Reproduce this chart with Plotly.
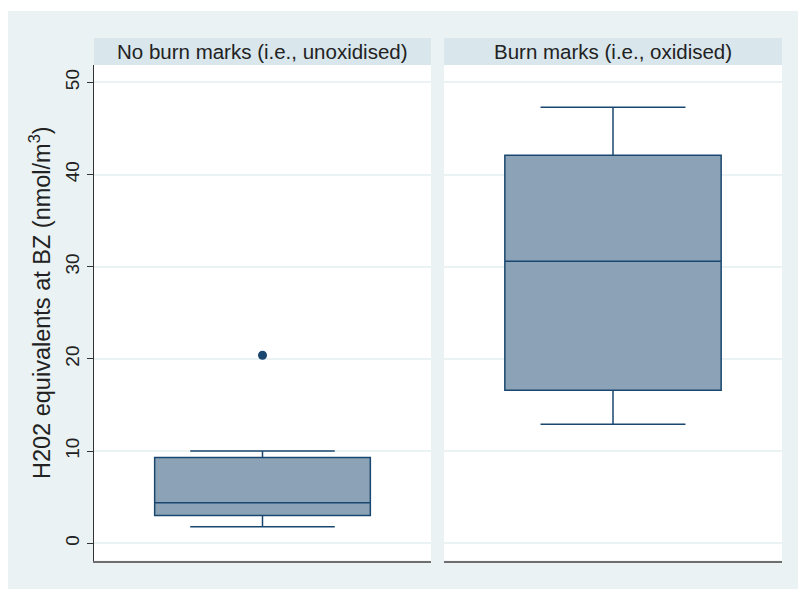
import plotly.graph_objects as go

# ---- data ----
groups = ["No burn marks (i.e., unoxidised)", "Burn marks (i.e., oxidised)"]
lower_whisker = [1.8, 12.9]
q1_vals = [3.0, 16.6]
median_vals = [4.4, 30.6]
q3_vals = [9.3, 42.1]
upper_whisker = [10.0, 47.3]
outliers = [[20.4], []]
y_ticks = [0, 10, 20, 30, 40, 50]
y_title = "H202 equivalents at BZ (nmol/m<sup>3</sup>)"

W, H = 798, 589
BOX_FILL = "#8CA2B6"
NAVY = "#1A476F"
BG = "#EAF2F3"
STRIP = "#D9E6EC"

fig = go.Figure()

panel_px = [(94, 431), (444, 782)]
top_px, bot_px = 65, 560.5
strip_top = 38

for i, g in enumerate(groups):
    xa = "x" if i == 0 else "x2"
    ya = "y" if i == 0 else "y2"
    fig.add_trace(go.Box(
        x=[0], q1=[q1_vals[i]], median=[median_vals[i]], q3=[q3_vals[i]],
        lowerfence=[lower_whisker[i]], upperfence=[upper_whisker[i]],
        width=0.64, whiskerwidth=0.67,
        fillcolor=BOX_FILL, line=dict(color=NAVY, width=1.5),
        boxpoints=False, showlegend=False, xaxis=xa, yaxis=ya,
        hoverinfo="skip",
    ))
    if outliers[i]:
        fig.add_trace(go.Scatter(
            x=[0] * len(outliers[i]), y=outliers[i], mode="markers",
            marker=dict(color=NAVY, size=9), showlegend=False,
            xaxis=xa, yaxis=ya,
        ))

def dom(p):
    return [p[0] / W, p[1] / W]

ydom = [1 - bot_px / H, 1 - top_px / H]
yrange = [-1.87, 51.89]

common_x = dict(range=[-0.5, 0.5], showticklabels=False, showgrid=False,
                zeroline=False, ticks="", showline=True, linecolor="#6E6E6E",
                linewidth=2, mirror=False, fixedrange=True)
fig.update_layout(
    width=W, height=H,
    margin=dict(l=0, r=0, t=0, b=0),
    paper_bgcolor="white", plot_bgcolor="white",
    font=dict(family="Liberation Sans, Arial, sans-serif", color="#222222"),
    xaxis=dict(domain=dom(panel_px[0]), **common_x),
    xaxis2=dict(domain=dom(panel_px[1]), **common_x),
    yaxis=dict(domain=ydom, range=yrange, tickvals=y_ticks, ticks="outside",
               ticklen=6, tickcolor="#333333", tickangle=-90,
               tickfont=dict(size=19, color="#222222"),
               showline=True, linecolor="#333333", linewidth=1.2,
               showgrid=True, gridcolor=BG, gridwidth=1.5, zeroline=False,
               automargin=False, anchor="x"),
    yaxis2=dict(domain=ydom, range=yrange, tickvals=y_ticks, showticklabels=False,
                ticks="", showline=False, showgrid=True, gridcolor=BG,
                gridwidth=1.5, zeroline=False, anchor="x2", matches="y"),
    showlegend=False,
)

shapes = [
    dict(type="rect", xref="paper", yref="paper", layer="below",
         x0=8 / W, x1=1, y0=0, y1=1 - 11 / H, fillcolor=BG, line=dict(width=0)),
]
annotations = []
for i, g in enumerate(groups):
    x0, x1 = panel_px[i]
    shapes.append(dict(type="rect", xref="paper", yref="paper", layer="below",
                       x0=x0 / W, x1=x1 / W, y0=1 - top_px / H, y1=1 - strip_top / H,
                       fillcolor=STRIP, line=dict(width=0)))
    shapes.append(dict(type="rect", xref="paper", yref="paper", layer="below",
                       x0=x0 / W, x1=x1 / W, y0=1 - bot_px / H, y1=1 - top_px / H,
                       fillcolor="white", line=dict(width=0)))
    annotations.append(dict(text=g, xref="paper", yref="paper",
                            x=(x0 + x1) / 2 / W, y=1 - (strip_top + top_px) / 2 / H,
                            showarrow=False, xanchor="center", yanchor="middle",
                            font=dict(size=20.5, color="#222222")))

annotations.append(dict(text=y_title, xref="paper", yref="paper",
                        x=40 / W, y=1 - 303 / H, textangle=-90, showarrow=False,
                        xanchor="center", yanchor="middle",
                        font=dict(size=23.5, color="#222222")))
fig.update_layout(shapes=shapes, annotations=annotations)

fig.write_html("out.html", config={"displayModeBar": False},
               post_script="document.body.style.margin='0px';document.body.style.overflow='hidden';")
